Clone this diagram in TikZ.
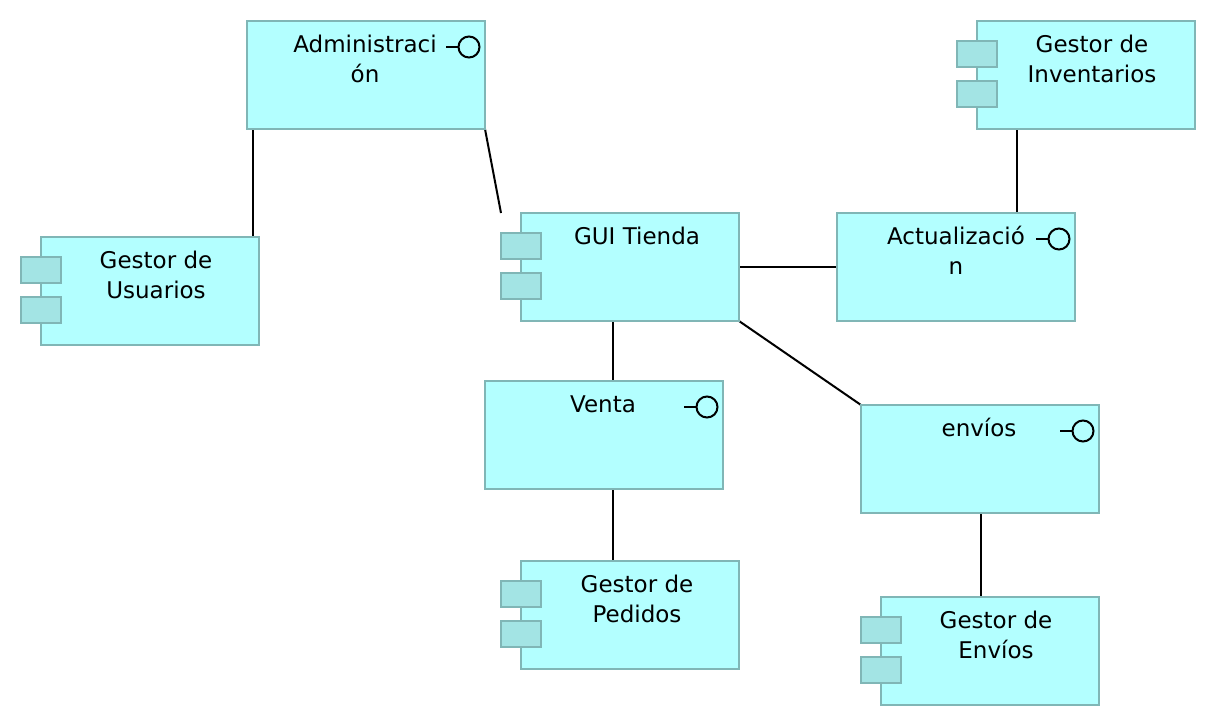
\documentclass[tikz,border=0pt]{standalone}
\usepackage{fontspec}
\setmainfont{DejaVu Sans}
\usepackage{xcolor}
\usetikzlibrary{positioning,calc,backgrounds}
\definecolor{boxfill}{RGB}{179,255,255}
\definecolor{boxline}{RGB}{128,182,182}
\definecolor{tabfill}{RGB}{163,228,228}
\tikzset{
  box/.style={draw=boxline,fill=boxfill,line width=2pt,minimum height=108pt,inner sep=0pt,outer sep=0pt},
  widebox/.style={box,minimum width=238pt},
  compbox/.style={box,minimum width=218pt},
  tabbox/.style={draw=boxline,fill=tabfill,line width=2pt,minimum width=40pt,minimum height=26pt,inner sep=0pt},
  boxtext/.style={font=\fontsize{23}{30}\selectfont,align=center,anchor=base,inner sep=0pt},
  conn/.style={black,line width=2pt},
  ball/.style={draw=black,fill=boxfill,circle,line width=2pt,minimum size=21pt,inner sep=0pt,outer sep=0pt}
}
\begin{document}
\begin{tikzpicture}[x=1pt,y=-1pt]
    \useasboundingbox (0,0) rectangle (1216,726);

    % Cajas.
    \node[widebox] (admin) at (366,75) {};
    \node[compbox] (usuarios) at (150,291) {};
    \node[compbox] (gui) at (630,267) {};
    \node[widebox] (actual) at (956,267) {};
    \node[compbox] (inventarios) at (1086,75) {};
    \node[widebox] (venta) at (604,435) {};
    \node[widebox] (envios) at (980,459) {};
    \node[compbox] (pedidos) at (630,615) {};
    \node[compbox] (genvios) at (990,651) {};

    % Conectores, por debajo de las cajas.
    \begin{scope}[on background layer]
    \draw[conn] ([xshift=6pt]admin.south west) -- ([xshift=-6pt]usuarios.north east);
    \draw[conn] (admin.south east) -- ([xshift=-20pt]gui.north west);
    \draw[conn] (gui.east) -- (actual.west);
    \draw[conn] ([xshift=40pt]inventarios.south west) -- ([xshift=-58pt]actual.north east);
    \draw[conn] ([xshift=92pt]gui.south west) -- ([xshift=128pt]venta.north west);
    \draw[conn] (gui.south east) -- (envios.north west);
    \draw[conn] ([xshift=128pt]venta.south west) -- ([xshift=92pt]pedidos.north west);
    \draw[conn] ([xshift=120pt]envios.south west) -- ([xshift=100pt]genvios.north west);
    \end{scope}

    % Pestañas de los componentes.
    \foreach \comp in {usuarios,gui,inventarios,pedidos,genvios}{
      \node[tabbox] (\comp tabA) at ([shift={(0,-21)}]\comp.west) {};
      \node[tabbox] (\comp tabB) at ([shift={(0,19)}]\comp.west) {};
    }

    % Interfaces: raya y circulo en la esquina.
    \foreach \iface in {admin,actual,venta,envios}{
      \node[ball] (\iface ball) at ([shift={(-16,26)}]\iface.north east) {};
      \draw[conn] (\iface ball.west) -- ++(-13,0);
    }

    % Textos.
    \node[boxtext] (admintext) at ([shift={(-1,61)}]admin.north) {Administraci\\ón};
    \node[boxtext] (usuariostext) at ([shift={(6,61)}]usuarios.north) {Gestor de\\Usuarios};
    \node[boxtext] (guitext) at ([shift={(7,31)}]gui.north) {GUI Tienda};
    \node[boxtext] (actualtext) at ([shift={(0,61)}]actual.north) {Actualizació\\n};
    \node[boxtext] (inventariostext) at ([shift={(6,61)}]inventarios.north) {Gestor de\\Inventarios};
    \node[boxtext] (ventatext) at ([shift={(-1,31)}]venta.north) {Venta};
    \node[boxtext] (enviostext) at ([shift={(-1,31)}]envios.north) {envíos};
    \node[boxtext] (pedidostext) at ([shift={(7,61)}]pedidos.north) {Gestor de\\Pedidos};
    \node[boxtext] (genviostext) at ([shift={(6,61)}]genvios.north) {Gestor de\\Envíos};
\end{tikzpicture}
\end{document}
